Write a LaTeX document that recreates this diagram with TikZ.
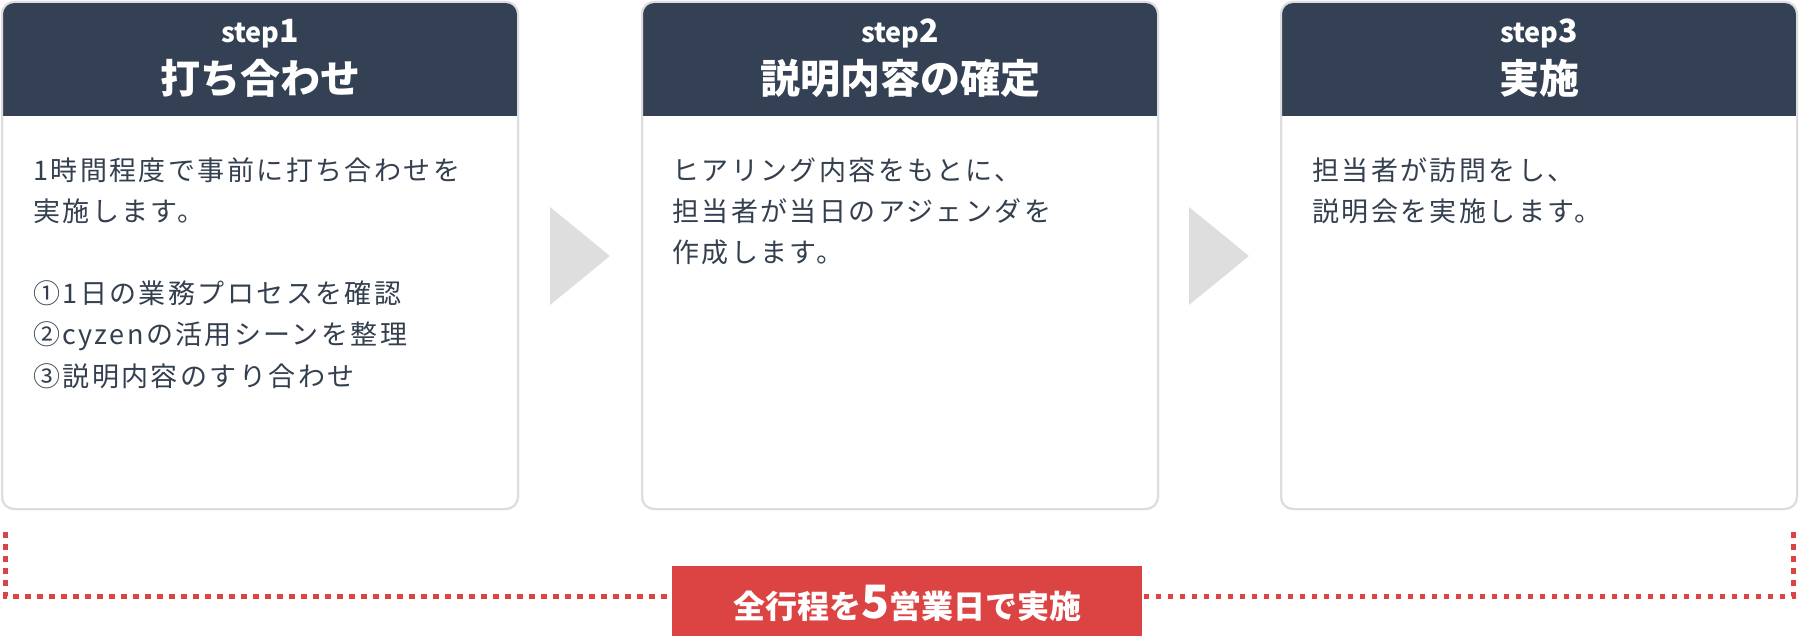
\documentclass[tikz,border=0pt]{standalone}
\usepackage{fontspec}
\newfontfamily\jpfont{Noto Sans CJK JP}
\newfontfamily\jpbody{Noto Sans CJK JP}[LetterSpace=9]
\definecolor{hdr}{HTML}{344154}
\definecolor{ink}{HTML}{34404F}
\definecolor{bord}{HTML}{DDDDDD}
\definecolor{tri}{HTML}{DEDEDE}
\definecolor{lab}{HTML}{DC4444}
\tikzset{
  card/.style={draw=bord, line width=2pt, fill=white, rounded corners=12pt,
    minimum width=516pt, minimum height=507pt, inner sep=0pt, outer sep=0pt, anchor=north west},
  stepttl/.style={text=white, font=\jpfont\bfseries\fontsize{27}{27}\selectfont, anchor=base, inner sep=0pt},
  ttl/.style={text=white, font=\jpfont\bfseries\fontsize{40}{40}\selectfont, anchor=base, inner sep=0pt},
  body/.style={text=ink, font=\jpbody\fontsize{27}{27}\selectfont, anchor=base west, inner sep=0pt},
  arrowtri/.style={fill=tri},
  dotline/.style={draw=lab, line width=5pt, dash pattern=on 5.5pt off 6.5pt},
  redbox/.style={fill=lab, minimum width=470pt, minimum height=70pt, inner sep=0pt},
  redtxt/.style={text=white, font=\jpfont\bfseries\fontsize{32}{32}\selectfont, anchor=base, inner sep=0pt},
}
\begin{document}
\begin{tikzpicture}[x=1pt,y=-1pt]
\useasboundingbox (0,0) rectangle (1800,636);
\foreach \i/\x in {1/2,2/642,3/1281}{
  \node[card] (c\i) at (\x,2) {};
  \begin{scope}
    \clip[rounded corners=12pt] (c\i.north west) rectangle (c\i.south east);
    \fill[hdr] (c\i.north west) rectangle ([yshift=-114pt]c\i.north east);
  \end{scope}
  \draw[bord, line width=2pt, rounded corners=12pt] (c\i.north west) rectangle (c\i.south east);
}
% headers
\node[stepttl] (st1) at (260,43) {step{\fontsize{32}{32}\selectfont 1}};
\node[ttl] (t1) at (260,94) {打ち合わせ};
\node[stepttl] (st2) at (900,43) {step{\fontsize{32}{32}\selectfont 2}};
\node[ttl] (t2) at (900,94) {説明内容の確定};
\node[stepttl] (st3) at (1539,43) {step{\fontsize{32}{32}\selectfont 3}};
\node[ttl] (t3) at (1539,94) {実施};
% bodies
\node[body] (b1a) at (33,181) {1時間程度で事前に打ち合わせを};
\node[body] (b1b) at (33,222) {実施します。};
\node[body] (b1c) at (33,304) {①1日の業務プロセスを確認};
\node[body] (b1d) at (33,345) {②cyzenの活用シーンを整理};
\node[body] (b1e) at (33,386) {③説明内容のすり合わせ};
\node[body] (b2a) at (672,181) {ヒアリング内容をもとに、};
\node[body] (b2b) at (672,222) {担当者が当日のアジェンダを};
\node[body] (b2c) at (672,263) {作成します。};
\node[body] (b3a) at (1312,181) {担当者が訪問をし、};
\node[body] (b3b) at (1312,222) {説明会を実施します。};
% arrows
\fill[arrowtri] (550,207) -- (610,256) -- (550,305) -- cycle;
\fill[arrowtri] (1189,207) -- (1249,256) -- (1189,305) -- cycle;
% bottom label
\node[redbox] (lbl) at (907,601) {};
\coordinate (dl) at (5,532);
\coordinate (dr) at (1793,532);
\draw[dotline] (dl) |- ([yshift=5pt]lbl.west);
\draw[dotline] (dr) |- ([yshift=5pt]lbl.east);
\node[redtxt] (lbltxt) at (907,618) {全行程を{\fontsize{46}{46}\selectfont 5}営業日で実施};
\end{tikzpicture}
\end{document}
